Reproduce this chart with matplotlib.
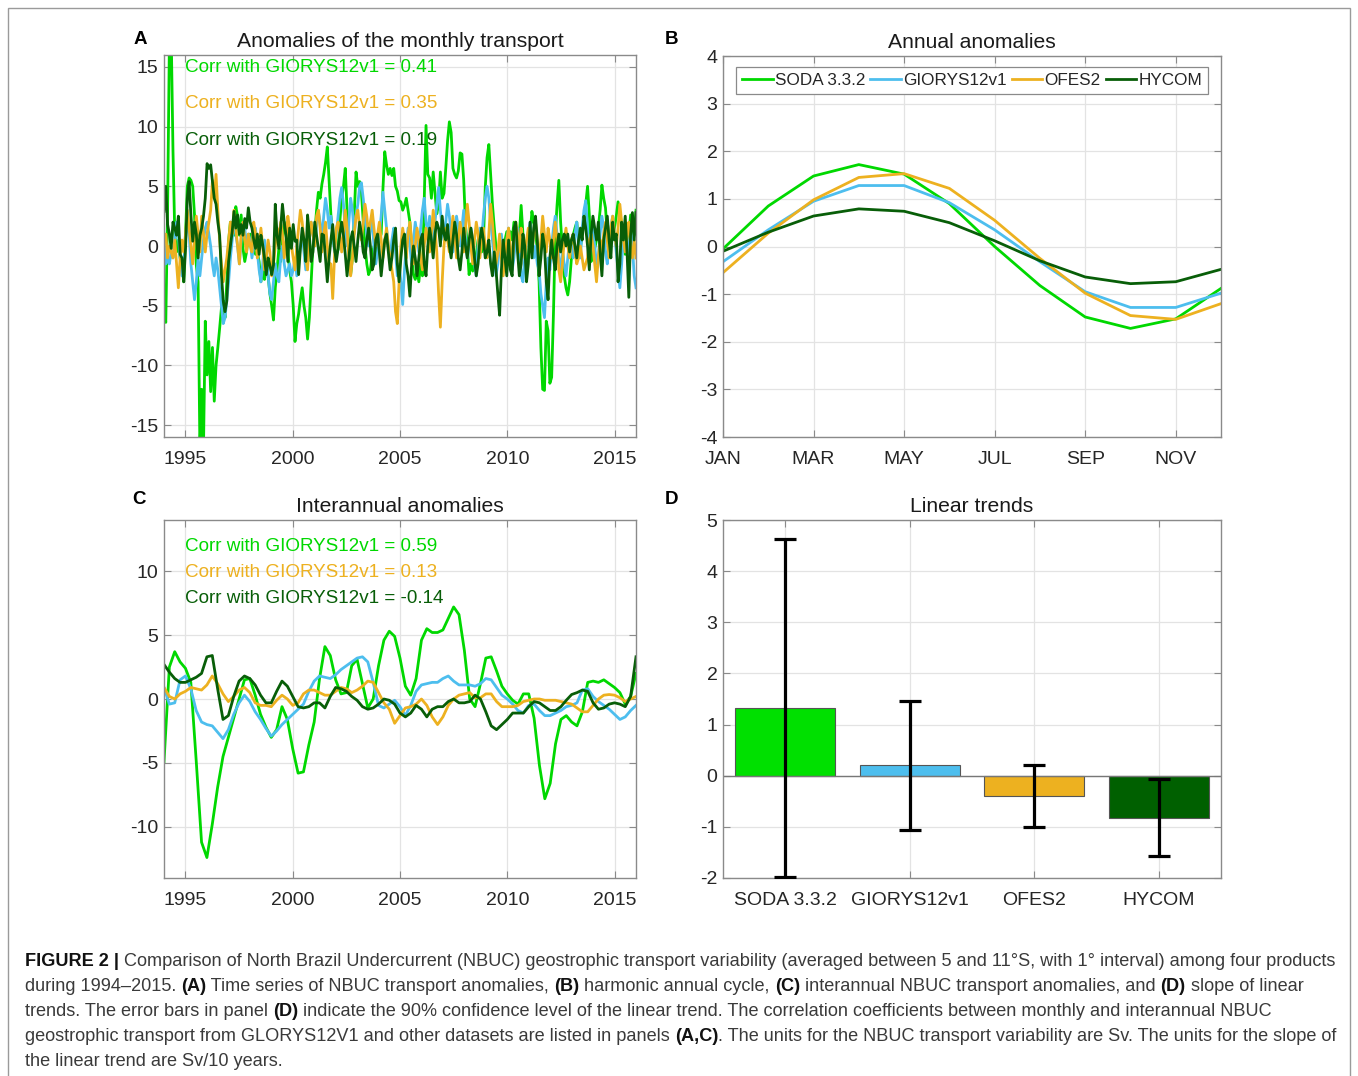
import matplotlib
matplotlib.use("Agg")
import matplotlib.pyplot as plt
import numpy as np
from matplotlib.patches import Rectangle

plt.rcParams["font.family"] = ["Liberation Sans", "DejaVu Sans"]
plt.rcParams["axes.unicode_minus"] = False

# ---------------------------------------------------------------- data
products = ["SODA 3.3.2", "GIORYS12v1", "OFES2", "HYCOM"]
line_colors = ["#00D800", "#4DBEEE", "#EDB120", "#085E08"]
bar_colors = ["#00E000", "#4DBEEE", "#EDB120", "#006000"]

corr_monthly = ["0.41", "0.35", "0.19"]        # SODA, OFES2, HYCOM vs GLORYS
corr_interannual = ["0.59", "0.13", "-0.14"]

# (A) monthly transport anomalies, Jan 1994 - Dec 2015 (Sv)
soda_monthly = [
    -5.5, -6.4, 3.0, 17.0, 18.0, 8.0, 1.0, -0.5, 0.5, -1.0, -1.5, -3.0,        # 1994
    1.0, 5.0, 5.7, 5.5, 5.0, 2.6, -1.6, -3.0, -17.0, -12.0, -17.0, -6.3,      # 1995
    -10.8, -8.0, -12.2, -8.5, -13.0, -10.0, -8.5, -6.9, -5.2, -4.6, -6.0, -3.0,  # 1996
    0.4, 2.0, 1.5, 0.9, 3.3, 2.5, 0.9, 2.6, -0.2, -1.3, -0.5, 0.9,            # 1997
    1.0, -0.2, 0.5, -0.7, -0.5, -1.3, -3.0, -2.0, -2.8, -1.3, -2.5, -4.0,     # 1998
    -5.0, -6.2, -3.5, -2.0, -0.2, -1.3, 0.5, 2.0, 1.0, -0.5, -2.0, -3.0,      # 1999
    -5.0, -8.0, -6.5, -5.7, -4.5, -3.5, -5.0, -6.0, -7.8, -6.0, -3.0, 0.0,    # 2000
    1.0, 3.0, 4.5, 4.0, 5.2, 6.0, 7.0, 8.3, 5.5, 2.6, 1.0, -0.2,              # 2001
    -0.7, -0.3, 2.1, 4.0, 5.0, 6.5, 3.0, -0.2, -2.4, -1.0, 2.5, 6.2,          # 2002
    5.0, 5.4, 4.5, 2.1, 0.0, -1.5, -2.4, -2.0, -0.7, 0.0, -1.0, 1.0,          # 2003
    0.5, 1.0, 4.8, 7.9, 6.8, 6.0, 6.5, 5.9, 6.5, 5.0, 4.6, 3.8,               # 2004
    3.7, 3.0, 3.4, 4.0, 3.0, 2.0, -0.2, -2.4, -2.8, -2.0, -3.0, -1.5,         # 2005
    -2.5, 4.0, 10.1, 6.0, 5.7, 4.0, 6.2, 4.5, 2.7, 3.5, 6.2, 4.0,             # 2006
    4.4, 6.5, 8.8, 10.4, 9.5, 6.5, 6.0, 5.7, 6.3, 7.8, 7.7, 5.5,              # 2007
    1.8, 0.0, -2.4, -1.5, -2.1, -1.3, -0.7, 0.5, 1.3, -0.5, 0.5, 4.9,         # 2008
    7.4, 8.5, 6.0, 3.5, 1.6, -0.1, -0.4, -0.7, -0.5, 0.0, 0.5, 1.2,           # 2009
    0.0, 1.2, 0.5, 2.0, 0.0, 0.9, 0.9, 3.4, 1.0, -0.2, -1.3, -1.0,            # 2010
    1.0, 2.9, 2.0, 1.5, -0.5, -3.0, -8.5, -12.0, -12.1, -6.3, -7.1, -11.5,    # 2011
    -11.0, -5.7, 0.9, 3.4, 5.5, 2.0, -0.2, -2.5, -3.5, -4.1, -3.0, -1.0,      # 2012
    0.9, 1.5, 2.0, 0.5, -0.2, 1.0, 2.0, 3.5, 5.0, 2.6, -1.3, -0.5,            # 2013
    -0.2, 0.5, 1.5, 3.0, 5.1, 4.0, 3.2, 1.0, -0.7, 0.4, 0.8, 1.5,             # 2014
    2.5, 3.7, 2.8, 1.8, 0.5, -0.7, 0.2, 0.9, 2.6, 1.5, 0.9, 3.0,              # 2015
]
glorys_monthly = [
    0.5, -1.5, -1.0, -1.5, -0.5, -1.0, 0.5, 2.0, 1.0, -1.0, -2.5, -1.5,
    0.5, 2.5, 1.0, -1.5, -3.0, -4.5, -3.0, -1.0, -2.5, -1.0, 0.5, 1.5,
    2.0, 1.0, 0.0, -1.5, -2.5, -1.0, -2.0, -3.5, -5.0, -6.5, -6.0, -4.5,
    -3.0, -1.0, 0.5, 2.5, 1.0, 0.0, -1.5, 0.5, 2.0, 1.5, 0.0, 1.0,
    0.5, -1.0, 0.0, 1.5, -0.5, -2.0, -3.0, -1.5, 0.5, -1.0, -2.5, -4.0,
    -4.5, -3.0, -1.5, -2.5, -3.0, -1.0, 0.0, -1.5, -2.5, -2.0, -1.5, -2.5,
    -2.0, -1.0, -2.5, -1.5, 0.0, 1.0, -0.5, -2.0, -1.0, 0.5, 2.0, 1.0,
    0.0, 1.5, 3.0, 2.0, 0.5, 2.5, 4.0, 3.0, 1.5, 2.5, 1.0, -0.5,
    1.0, 2.5, 4.0, 4.9, 3.5, 1.5, 0.0, 2.0, 4.0, 3.0, 1.0, 2.5,
    3.5, 5.0, 5.3, 4.0, 2.5, 1.0, 0.0, 1.5, 2.0, 0.0, -1.5, -0.5,
    1.0, 2.5, 4.5, 3.0, 1.5, 0.0, -1.0, 0.5, 1.5, -0.5, -2.5, -1.5,
    -3.0, -4.9, -2.0, 0.0, 1.5, 0.0, -1.5, 0.5, 2.0, 1.0, -0.5, 1.5,
    3.0, 4.0, 2.0, 1.0, 2.5, 1.5, 0.5, 2.0, 3.5, 4.9, 3.0, 1.5,
    0.5, 2.0, 3.5, 2.5, 1.0, -0.5, 1.0, 2.5, 1.5, 0.0, 1.5, 3.0,
    1.0, -1.0, 0.0, 1.5, 0.5, -1.5, -2.5, 0.0, 1.5, 0.5, 2.5, 4.0,
    5.0, 4.0, 2.0, 0.5, -1.0, -2.5, -1.5, 0.0, 1.0, -0.5, -1.0, 0.5,
    1.5, -0.5, -2.0, -1.0, 0.5, 1.5, 0.0, -2.5, -3.0, -1.0, 0.5, 1.0,
    2.0, 0.5, -1.0, 0.0, -1.5, -2.0, -4.0, -5.0, -6.0, -3.0, -1.0, -2.0,
    0.0, 1.5, 2.5, 1.0, -1.0, -2.0, -0.5, -1.5, -2.5, -1.0, 0.5, 0.0,
    -1.0, 1.0, 2.0, 0.0, -1.0, 1.5, 3.0, 3.8, 1.5, -1.0, 0.5, 1.5,
    0.0, -1.5, -1.0, 1.0, 2.5, 1.5, -0.5, -1.5, 0.5, 1.5, 2.5, 1.0,
    -0.5, -2.0, -3.5, -1.5, 1.0, 2.0, 0.5, -1.0, 1.5, 0.0, -2.5, -3.5,
]
ofes_monthly = [
    0.5, 1.0, -1.0, 0.0, -0.5, -1.0, 0.5, -1.5, -3.5, -1.0, 0.5, -0.5,
    1.0, 3.0, 1.5, 0.0, -1.5, 0.5, 2.5, 1.0, -0.5, 2.5, 1.0, -0.5,
    1.0, 2.0, 3.0, 5.5, 4.0, 6.0, 3.0, 0.5, -1.5, -3.0, -2.0, -1.0,
    0.5, 2.0, 1.0, 3.0, 1.5, 0.0, -1.5, 1.0, 2.0, 0.5, -0.5, 1.0,
    0.0, -0.5, 2.0, 1.0, -1.0, 0.0, 1.5, 0.0, -2.0, -1.0, 0.5, -0.5,
    -2.5, -1.5, 0.0, 1.5, 0.5, 2.0, 1.0, -1.0, 0.5, 2.5, 1.5, 0.0,
    -1.0, -2.0, 0.0, 1.5, 3.0, 2.0, 0.5, -1.0, -2.0, 0.5, 2.0, 1.0,
    0.0, 2.5, 3.0, 1.5, -0.5, 1.0, 2.0, 0.0, -1.5, -1.5, -4.4, -1.0,
    1.5, 2.0, 1.0, -0.5, 1.0, 3.0, 1.5, -1.0, -2.5, -1.0, 1.0, 2.5,
    3.0, 1.5, 0.5, 2.0, 3.5, 2.5, 1.0, 2.0, 3.0, 1.5, 0.0, 1.0,
    2.0, 0.5, -1.0, 0.5, 1.5, 0.0, -1.0, -2.0, -3.0, -5.5, -6.5, -3.0,
    0.0, 1.5, 0.5, -1.0, 1.0, 2.0, 0.5, -1.5, 0.0, 1.5, 0.5, -1.0,
    -2.0, 0.0, 1.5, 0.5, -0.5, 1.0, 3.0, 1.5, -0.5, -4.0, -6.8, -3.0,
    0.0, 1.5, 0.5, -0.5, 1.0, 2.5, 1.0, -1.0, 0.5, 2.0, 1.0, -0.5,
    1.5, 3.5, 2.0, 0.0, -1.5, 0.5, 2.0, 1.0, -1.0, 0.5, 1.5, 0.0,
    -1.0, 1.0, 3.5, 2.0, 0.0, -1.5, -0.5, 1.0, -1.0, -2.5, -1.0, 0.5,
    1.5, 0.0, -1.5, 0.5, 2.0, 1.0, -0.5, 1.5, 0.5, -1.0, 0.5, 1.5,
    0.5, -0.5, 1.0, 2.0, 0.5, -1.0, 0.5, 2.5, 1.0, -0.5, 1.5, 0.5,
    -1.0, 0.5, 2.0, 0.5, -2.0, -3.0, -1.5, 0.5, 1.5, 0.0, -1.0, 0.5,
    1.0, -0.5, -1.5, -1.0, 0.0, -1.0, -2.0, -1.5, -1.0, 0.5, 1.0, 0.0,
    -1.5, -3.0, -1.0, 0.5, -0.5, 1.0, 2.0, 0.5, -1.0, 1.5, 2.5, 1.0,
    0.0, 1.5, 3.5, 2.0, 0.5, -0.5, 1.0, 2.0, 0.0, -1.0, 0.5, -1.0,
]
hycom_monthly = [
    2.9, 5.0, 1.8, 1.0, -0.2, 2.0, 1.5, 0.9, 2.5, -0.7, -1.0, -3.0,
    -0.2, 4.0, 5.4, 2.6, 0.4, 2.0, 1.0, -1.0, 0.9, 1.5, 2.5, 4.0,
    6.9, 6.5, 6.8, 5.4, 4.0, 3.5, 2.0, 0.9, -2.4, -4.6, -5.5, -4.6,
    -1.3, 0.0, 1.2, 2.9, 1.5, 2.6, 1.0, 1.8, 0.9, 2.3, 1.5, 3.2,
    2.0, 1.5, 0.5, -0.2, 1.0, -0.7, 0.9, 0.1, -1.0, -2.4, -1.0, -1.6,
    -2.4, -1.6, 3.5, 0.9, -0.2, 1.5, 3.5, 2.0, 0.9, -1.3, 1.5, -0.2,
    1.8, 0.4, 0.5, -2.4, -0.2, 1.5, 0.5, -1.3, 2.6, 0.9, -1.3, -0.5,
    2.0, 0.9, -0.2, -1.3, 1.0, 0.9, -1.0, -3.0, -1.0, 0.5, 1.8, -0.2,
    -1.3, -0.2, 1.0, 2.0, 0.9, -0.7, -2.5, -1.0, 0.5, 1.2, 0.0, -1.3,
    0.5, 2.0, 1.0, -0.5, -1.0, 0.5, 1.5, 0.0, -2.0, -1.5, 0.5, 1.0,
    -0.5, -2.5, -1.0, 0.5, 1.0, -0.5, -2.0, -1.0, 0.5, 1.5, -1.5, -3.0,
    -1.0, 0.5, 1.0, -1.5, -2.5, -4.2, -1.5, 0.0, -1.0, -2.5, -1.0, 0.5,
    1.0, -1.5, -2.5, 0.0, 1.5, 0.5, -1.0, 1.0, 2.0, 1.5, 0.0, 2.5,
    1.0, 0.5, 1.8, 0.0, -1.0, 0.5, 2.0, 1.0, -1.0, -2.0, -0.5, 1.5,
    0.0, -1.0, 0.5, 1.5, 0.5, -1.0, -2.5, -1.5, 0.5, 1.5, 0.5, -1.0,
    -0.5, 0.5, -1.5, -2.5, -0.5, -2.0, -4.0, -5.8, -2.0, 0.5, -1.0, -2.5,
    0.5, -2.0, -2.5, 1.5, 2.0, -0.5, -2.5, -1.5, 1.0, 0.0, -3.0, -1.5,
    2.0, -1.0, 1.5, 2.5, 0.5, -2.5, -1.0, 1.0, 0.0, -3.0, -4.5, -1.0,
    0.5, -1.0, -2.0, 0.0, 1.0, -0.5, 0.5, 1.0, 0.0, 1.0, -0.5, 0.5,
    1.0, 0.0, -1.0, 0.5, 1.5, 0.5, 2.5, 1.5, 0.0, -2.0, 1.0, 2.5,
    1.5, 0.5, 2.0, -0.5, -2.5, 0.5, 1.5, 2.5, 0.5, -1.0, 2.0, 0.5,
    1.0, -3.0, -1.5, 2.0, 0.5, 2.5, -0.5, -4.3, 1.0, 2.8, 0.5, 2.8,
]

# (B) harmonic annual cycle (Sv), Jan..Dec
month_labels = ["JAN", "FEB", "MAR", "APR", "MAY", "JUN",
                "JUL", "AUG", "SEP", "OCT", "NOV", "DEC"]
soda_annual = [-0.05, 0.85, 1.48, 1.72, 1.52, 0.90, 0.00, -0.82, -1.48, -1.72, -1.52, -0.88]
glorys_annual = [-0.32, 0.35, 0.95, 1.28, 1.28, 0.92, 0.35, -0.32, -0.95, -1.28, -1.28, -0.98]
ofes_annual = [-0.55, 0.28, 0.98, 1.45, 1.53, 1.22, 0.55, -0.25, -0.98, -1.45, -1.53, -1.20]
hycom_annual = [-0.10, 0.30, 0.64, 0.79, 0.74, 0.50, 0.12, -0.30, -0.64, -0.78, -0.74, -0.48]

# (C) interannual anomalies, quarterly samples 1994.00 .. 2016.00 (Sv)
soda_interannual = [
    -4.9, 2.5, 3.7, 2.9, 2.4, 1.3, -4.8, -11.2, -12.4, -9.8, -6.9, -4.5,
    -3.0, -1.5, 0.0, 1.5, 1.6, 0.3, -1.2, -2.2, -3.0, -2.4, -0.6, -1.6,
    -3.9, -5.8, -5.7, -3.6, -1.8, 1.6, 4.1, 3.4, 1.5, 0.4, 0.5, 2.6,
    3.1, 1.2, -0.7, 0.0, 2.6, 4.6, 5.3, 4.9, 3.2, 1.0, 0.3, 1.6,
    4.6, 5.5, 5.2, 5.2, 5.4, 6.3, 7.2, 6.6, 3.8, 0.0, -0.6, 1.2,
    3.2, 3.3, 2.2, 1.0, 0.4, -0.1, -0.4, 0.4, 0.4, -1.5, -5.2, -7.8,
    -6.6, -3.5, -1.6, -1.3, -1.8, -2.1, -1.0, 1.3, 1.4, 1.3, 1.5, 1.2,
    0.9, 0.5, -0.4, 0.2, 2.0,
]
glorys_interannual = [
    0.9, -0.4, -0.3, 1.5, 1.8, 0.8, -0.9, -1.8, -2.0, -2.1, -2.6, -3.1,
    -2.4, -1.2, -0.3, 0.3, -0.2, -1.0, -1.6, -2.3, -2.9, -2.5, -2.0, -1.6,
    -1.2, -0.8, -0.4, 0.6, 1.4, 1.8, 1.7, 1.6, 1.9, 2.3, 2.6, 2.9,
    3.2, 3.3, 2.9, 1.3, -0.5, -0.7, -0.4, -0.1, -0.6, -1.3, -0.5, 0.6,
    1.1, 1.2, 1.3, 1.3, 1.6, 1.8, 1.4, 1.1, 1.1, 1.1, 1.0, 1.2,
    1.6, 1.5, 0.9, 0.3, 0.0, -0.4, -0.9, -1.1, -0.5, -0.4, -0.9, -1.3,
    -1.3, -1.1, -0.9, -0.6, -0.5, -0.3, 0.7, 0.8, 0.2, -0.2, -0.5, -0.8,
    -1.2, -1.6, -1.4, -0.9, -0.5,
]
ofes_interannual = [
    0.9, 0.2, 0.0, 0.4, 0.6, 0.9, 0.8, 0.7, 1.1, 1.8, 1.2, 0.4,
    -0.2, 0.2, 0.7, 0.9, 0.5, -0.3, -0.5, -0.5, -0.6, -0.1, 0.3, 0.0,
    -0.5, -0.3, 0.4, 0.7, 0.7, 0.5, 0.3, 0.3, 0.6, 0.9, 0.8, 0.5,
    0.7, 1.0, 1.4, 1.3, 0.5, -0.3, -0.8, -1.9, -1.3, -0.7, -0.6, -0.4,
    0.0, -0.5, -1.4, -2.0, -1.4, -0.5, 0.0, 0.3, 0.4, 0.5, 0.1, 0.1,
    0.4, 0.4, -0.2, -0.6, -0.6, -0.6, -0.5, -0.2, -0.1, 0.0, 0.0, -0.1,
    -0.1, -0.1, -0.2, -0.3, -0.4, -0.7, -1.0, -1.0, -0.5, 0.0, 0.3, 0.35,
    0.3, 0.1, -0.2, 0.0, 0.2,
]
hycom_interannual = [
    2.7, 2.1, 1.6, 1.3, 1.3, 1.5, 1.7, 2.0, 3.3, 3.4, 0.8, -1.6,
    -1.3, 0.2, 1.4, 1.8, 1.6, 1.1, 0.3, -0.3, -0.3, 0.6, 1.4, 1.0,
    0.2, -0.6, -0.7, -0.6, -0.3, -0.3, -0.7, 0.2, 0.9, 0.8, 0.6, 0.2,
    -0.1, -0.6, -0.8, -0.7, -0.4, 0.0, -0.1, -0.4, -1.1, -1.4, -1.1, -0.5,
    -0.8, -1.4, -0.8, -0.6, -0.6, -0.2, 0.0, -0.3, -0.3, -0.2, 0.3, 0.0,
    -1.0, -2.1, -2.4, -2.0, -1.6, -1.1, -1.1, -1.1, -0.6, -0.2, -0.3, -0.6,
    -0.9, -0.9, -0.6, -0.1, 0.35, 0.5, 0.7, 0.6, -0.3, -0.8, -0.7, -0.4,
    -0.3, -0.4, -0.6, 0.2, 3.3,
]

# (D) linear trends (Sv / 10 yr) and half-width of 90% confidence interval
trend = [1.32, 0.20, -0.40, -0.82]
trend_ci = [3.31, 1.27, 0.61, 0.75]

# ---------------------------------------------------------------- figure
W, H = 1358, 1076
fig = plt.figure(figsize=(W / 100, H / 100), dpi=100)
fig.patch.set_facecolor("white")


def px_axes(left, top, right, bottom):
    return fig.add_axes([left / W, 1 - bottom / H, (right - left) / W, (bottom - top) / H])


FRAME = "#8a8a8a"
GRID = "#e3e3e3"
TXT = "#262626"
TICK_FS = 14


def style(ax):
    for s in ax.spines.values():
        s.set_color(FRAME)
        s.set_linewidth(1.0)
    ax.tick_params(direction="in", top=True, right=True, length=5, width=0.8,
                   color=FRAME, labelcolor=TXT, labelsize=TICK_FS)
    ax.tick_params(axis="x", pad=10)
    ax.tick_params(axis="y", pad=4)
    ax.grid(True, color=GRID, linewidth=0.9)
    ax.set_axisbelow(True)


def panel_title(ax, text):
    ax.set_title(text, fontsize=15.2, color="#1a1a1a", pad=5.5)


ax_a = px_axes(164, 55, 636, 437)
ax_b = px_axes(723, 56, 1221, 437)
ax_c = px_axes(164, 520, 636, 878)
ax_d = px_axes(723, 520, 1221, 878)

LW = 2.0
CORR_FS = 13.6

# ---- A: monthly anomalies
n_months = len(soda_monthly)
t_month = 1994 + np.arange(n_months) * 22.0 / (n_months - 1)
for series, c in zip([soda_monthly, glorys_monthly, ofes_monthly, hycom_monthly], line_colors):
    ax_a.plot(t_month, series, color=c, lw=LW, solid_joinstyle="round")
ax_a.set_xlim(1994, 2016)
ax_a.set_ylim(-16, 16)
ax_a.set_xticks([1995, 2000, 2005, 2010, 2015])
ax_a.set_yticks([-15, -10, -5, 0, 5, 10, 15])
style(ax_a)
panel_title(ax_a, "Anomalies of the monthly transport")
for k, (val, c) in enumerate(zip(corr_monthly, [line_colors[0], line_colors[2], line_colors[3]])):
    ax_a.text(0.0445, [0.966, 0.872, 0.777][k], f"Corr with GIORYS12v1 = {val}",
              color=c, fontsize=CORR_FS, va="center", ha="left", transform=ax_a.transAxes)

# ---- B: annual cycle
mon = np.arange(1, 13)
for series, c, name in zip([soda_annual, glorys_annual, ofes_annual, hycom_annual], line_colors, products):
    ax_b.plot(mon, series, color=c, lw=LW, label=name)
ax_b.set_xlim(1, 12)
ax_b.set_ylim(-4, 4)
ax_b.set_xticks(mon[::2])
ax_b.set_xticklabels(month_labels[::2])
ax_b.set_yticks(range(-4, 5))
style(ax_b)
panel_title(ax_b, "Annual anomalies")
leg = ax_b.legend(loc="upper center", bbox_to_anchor=(0.5, 0.97), ncol=4, fontsize=12.3,
                  frameon=True, fancybox=False, edgecolor="#8a8a8a", framealpha=1,
                  handlelength=1.8, handletextpad=0.12, columnspacing=0.3,
                  borderpad=0.35, borderaxespad=0.0)
leg.get_frame().set_linewidth(0.9)
for t in leg.get_texts():
    t.set_color(TXT)

# ---- C: interannual anomalies
t_q = 1994 + 0.25 * np.arange(len(soda_interannual))
for series, c in zip([soda_interannual, glorys_interannual, ofes_interannual, hycom_interannual], line_colors):
    ax_c.plot(t_q, series, color=c, lw=LW, solid_joinstyle="round")
ax_c.set_xlim(1994, 2016)
ax_c.set_ylim(-14, 14)
ax_c.set_xticks([1995, 2000, 2005, 2010, 2015])
ax_c.set_yticks([-10, -5, 0, 5, 10])
style(ax_c)
panel_title(ax_c, "Interannual anomalies")
for k, (val, c) in enumerate(zip(corr_interannual, [line_colors[0], line_colors[2], line_colors[3]])):
    ax_c.text(0.0445, [0.925, 0.852, 0.782][k], f"Corr with GIORYS12v1 = {val}",
              color=c, fontsize=CORR_FS, va="center", ha="left", transform=ax_c.transAxes)

# ---- D: linear trends
xpos = np.arange(1, 5)
ax_d.bar(xpos, trend, width=0.8, color=bar_colors, edgecolor="#555555", linewidth=0.8, zorder=2)
ax_d.axhline(0, color="#777777", lw=1.0, zorder=2.5)
ax_d.errorbar(xpos, trend, yerr=trend_ci, fmt="none", ecolor="black", elinewidth=2.3,
              capsize=8, capthick=2.3, zorder=3)
ax_d.set_xlim(0.5, 4.5)
ax_d.set_ylim(-2, 5)
ax_d.set_xticks(xpos)
ax_d.set_xticklabels(products)
ax_d.set_yticks(range(-2, 6))
style(ax_d)
panel_title(ax_d, "Linear trends")

# panel letters
for letter, (x, y) in zip("ABCD", [(140, 40), (672, 40), (139, 499), (672, 499)]):
    fig.text(x / W, 1 - y / H, letter, fontsize=13.5, fontweight="bold", color="black",
             ha="center", va="center")

# outer frame
fig.add_artist(Rectangle((8 / W, -0.02), (1350 - 8) / W, 1.02 - 8 / H, transform=fig.transFigure,
                         fill=False, edgecolor="#9a9a9a", linewidth=1.0))

# ---------------------------------------------------------------- caption
caption_lines = [
    [("FIGURE 2 |", True), (" Comparison of North Brazil Undercurrent (NBUC) geostrophic transport variability "
                             "(averaged between 5 and 11°S, with 1° interval) among four products", False)],
    [("during 1994–2015. ", False), ("(A)", True), (" Time series of NBUC transport anomalies, ", False),
     ("(B)", True), (" harmonic annual cycle, ", False), ("(C)", True),
     (" interannual NBUC transport anomalies, and ", False), ("(D)", True), (" slope of linear", False)],
    [("trends. The error bars in panel ", False), ("(D)", True),
     (" indicate the 90% confidence level of the linear trend. The correlation coefficients between "
      "monthly and interannual NBUC", False)],
    [("geostrophic transport from GLORYS12V1 and other datasets are listed in panels ", False),
     ("(A,C)", True), (". The units for the NBUC transport variability are Sv. The units for the slope of", False)],
    [("the linear trend are Sv/10 years.", False)],
]

renderer = fig.canvas.get_renderer()
CAP_COLOR = "#3a3a3a"


def line_width(segs, size):
    total = 0.0
    for txt, bold in segs:
        t = fig.text(0, 0, txt, fontsize=size, fontweight="bold" if bold else "normal")
        total += t.get_window_extent(renderer=renderer).width
        t.remove()
    return total


cap_size = 12.0 * (1312.0 / line_width(caption_lines[0], 12.0))

for i, segs in enumerate(caption_lines):
    x = 25.0
    y = 966 + 25 * i
    for txt, bold in segs:
        t = fig.text(x / W, 1 - y / H, txt, fontsize=cap_size, fontweight="bold" if bold else "normal",
                     color="#111111" if bold else CAP_COLOR, ha="left", va="baseline")
        x += t.get_window_extent(renderer=renderer).width

fig.savefig("out.png", dpi=100, facecolor="white")
